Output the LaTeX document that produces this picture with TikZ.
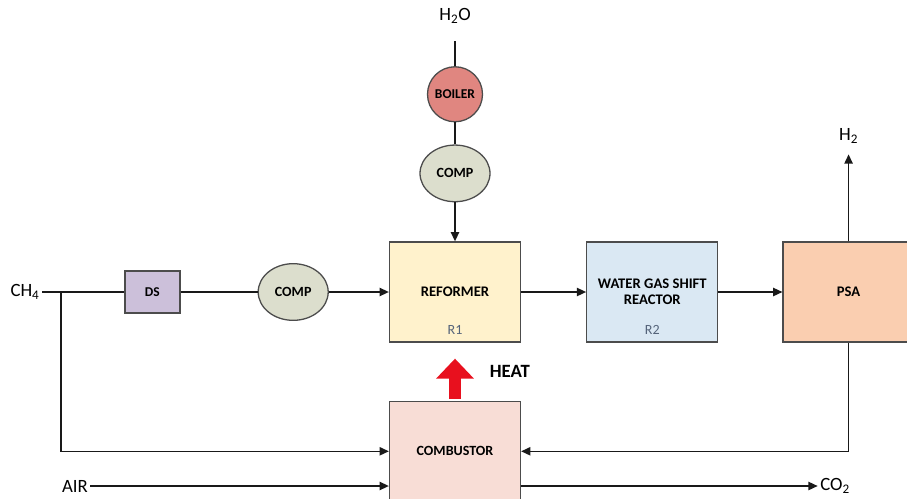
\documentclass[tikz,border=0pt]{standalone}
\usepackage{fontspec}
\setmainfont{Carlito}
\usetikzlibrary{shapes.geometric, arrows.meta, positioning}

\definecolor{reformerfill}{RGB}{255,242,204}
\definecolor{shiftfill}{RGB}{218,232,243}
\definecolor{psafill}{RGB}{250,206,176}
\definecolor{combfill}{RGB}{248,221,214}
\definecolor{dsfill}{RGB}{204,192,218}
\definecolor{compfill}{RGB}{220,222,205}
\definecolor{boilerfill}{RGB}{224,134,128}
\definecolor{tagcolor}{RGB}{85,100,122}
\definecolor{heatred}{RGB}{232,16,30}

\begin{document}
\begin{tikzpicture}[
    node distance=1.2cm,
    unit/.style={rectangle, draw=black!70, fill=#1, line width=1.1pt, minimum width=3.93cm, minimum height=3cm, align=center, font=\fontsize{12.5}{13.6}\selectfont\bfseries},
    comp/.style={ellipse, draw=black!70, fill=compfill, line width=1.1pt, minimum width=2.1cm, minimum height=1.7cm, inner sep=0pt, font=\fontsize{12}{13}\selectfont\bfseries},
    stream/.style={inner sep=2pt, font=\fontsize{16}{18}\selectfont},
    tag/.style={text=tagcolor, font=\fontsize{12}{13}\selectfont},
    pipe/.style={line width=1.3pt, draw=black!90},
    flow/.style={pipe, -{Triangle[length=0.28cm, width=0.25cm]}},
    heat/.style={-{Triangle[length=0.6cm, width=1.1cm]}, line width=0.36cm, draw=heatred, shorten <=0.06cm, shorten >=0.48cm}
]
    \useasboundingbox (0,0) rectangle (27.21,-14.94);

    % main line
    \node[unit=reformerfill] (reformer) at (13.65,-8.76) {REFORMER};
    \node[unit=shiftfill, right=1.95cm of reformer] (wgs) {WATER GAS SHIFT\\ REACTOR};
    \node[unit=psafill, right=1.92cm of wgs] (psa) {PSA};
    \node[comp, left=1.8cm of reformer] (comp2) {COMP};
    \node[rectangle, draw=black!70, fill=dsfill, line width=1.1pt, minimum width=1.65cm, minimum height=1.26cm, font=\fontsize{11.5}{13}\selectfont\bfseries, left=2.31cm of comp2] (ds) {DS};
    \node[stream] (ch4) at (0.75,-8.76) {CH\textsubscript{4}};
    \coordinate (split) at (1.83,-8.76);

    \node[tag] (r1) at ([yshift=0.38cm]reformer.south) {R1};
    \node[tag] (r2) at ([yshift=0.38cm]wgs.south) {R2};

    % steam
    \node[comp, above=1.17cm of reformer] (comp1) {COMP};
    \node[circle, draw=black!70, fill=boilerfill, line width=1.1pt, minimum size=1.65cm, inner sep=0pt, font=\fontsize{11.5}{13}\selectfont\bfseries, above=0.66cm of comp1] (boiler) {BOILER};
    \node[stream, above=1.2cm of boiler] (h2o) {H\textsubscript{2}O};

    % products and combustion
    \node[stream, above=2.85cm of psa] (h2) {H\textsubscript{2}};
    \node[unit=combfill, below=1.74cm of reformer, font=\fontsize{12}{13}\selectfont\bfseries] (combustor) {COMBUSTOR};
    \node[stream] (air) at (2.25,-14.58) {AIR};
    \node[stream] (co2) at (25.05,-14.58) {CO\textsubscript{2}};

    \draw[pipe, shorten <=0.45cm] (h2o) -- (boiler);
    \draw[pipe] (boiler) -- (comp1);
    \draw[flow] (comp1) -- (reformer);
    \draw[pipe] (ch4) -- (ds);
    \draw[pipe] (ds) -- (comp2);
    \draw[flow] (comp2) -- (reformer);
    \draw[flow] (reformer) -- (wgs);
    \draw[flow] (wgs) -- (psa);
    \draw[flow, shorten >=0.24cm] (psa) -- (h2);
    \draw[flow] (split) |- (combustor.west);
    \draw[flow] (psa.south) |- (combustor.east);
    \draw[flow] (air) -- (air -| combustor.west);
    \draw[flow] (co2 -| combustor.east) -- (co2);
    \draw[heat] (combustor.north) -- (reformer.south)
        node[midway, right=0.75cm, text=black, font=\fontsize{16}{18}\selectfont\bfseries] (heatlabel) {HEAT};
\end{tikzpicture}
\end{document}
